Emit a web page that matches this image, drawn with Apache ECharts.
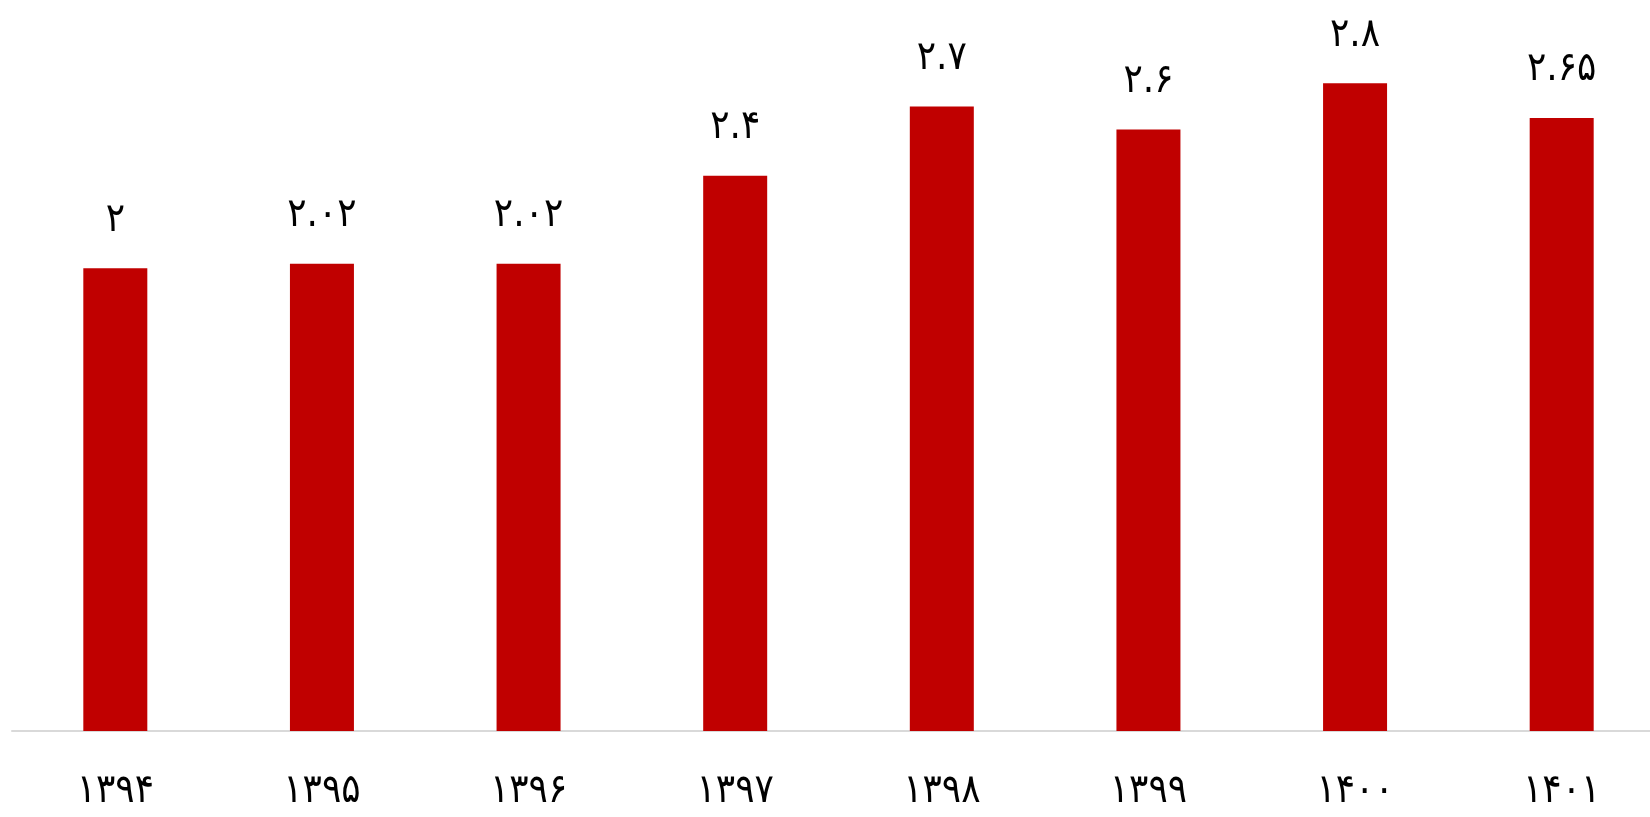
<!DOCTYPE html>
<html>
<head>
<meta charset="utf-8">
<script src="https://cdn.jsdelivr.net/npm/echarts@6/dist/echarts.min.js"></script>
<style>
html,body{margin:0;padding:0;background:#fff;}
#chart{width:1650px;height:817px;}
</style>
</head>
<body>
<div id="chart"></div>
<script>
const categories = ['۱۳۹۴','۱۳۹۵','۱۳۹۶','۱۳۹۷','۱۳۹۸','۱۳۹۹','۱۴۰۰','۱۴۰۱'];
const values = [2, 2.02, 2.02, 2.4, 2.7, 2.6, 2.8, 2.65];

const fa = '۰۱۲۳۴۵۶۷۸۹';
function toFa(s){ return String(s).replace(/[0-9]/g, d => fa[+d]); }

const chart = echarts.init(document.getElementById('chart'));
chart.setOption({
  animation: false,
  grid: { left: 12, right: -15, top: 37, bottom: 86, containLabel: false, outerBoundsMode: 'none' },
  xAxis: {
    type: 'category',
    data: categories,
    axisLine: { show: true, lineStyle: { color: '#d9d9d9', width: 2 } },
    axisTick: { show: false },
    axisLabel: {
      margin: 41,
      fontFamily: 'DejaVu Sans Condensed, DejaVu Sans',
      fontSize: 40,
      color: '#000'
    }
  },
  yAxis: {
    type: 'value',
    min: 0, max: 3,
    show: false,
    splitLine: { show: false }
  },
  series: [{
    type: 'bar',
    data: values,
    barWidth: 64,
    itemStyle: { color: '#C00000' },
    label: {
      show: true,
      position: 'top',
      distance: 28,
      fontFamily: 'DejaVu Sans Condensed, DejaVu Sans',
      fontSize: 40,
      color: '#000',
      formatter: p => toFa(p.value)
    }
  }]
});
</script>
</body>
</html>
